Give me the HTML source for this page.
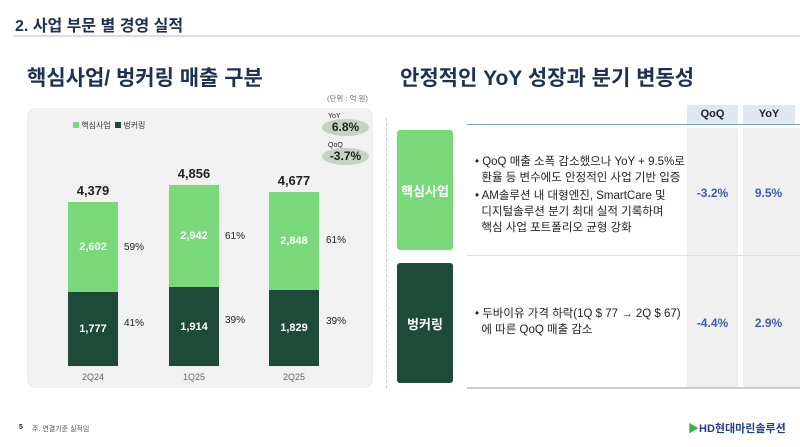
<!DOCTYPE html>
<html><head><meta charset="utf-8"><style>
*{margin:0;padding:0;box-sizing:border-box}
body{width:800px;height:447px;background:#fff;position:relative;overflow:hidden;font-family:"Liberation Sans","Noto Sans CJK KR",sans-serif;color:#222}
.a{position:absolute;white-space:nowrap}
.navy{color:#1f3150;font-weight:bold}
.bar{position:absolute;width:50px;color:#fff;font-weight:bold;font-size:11px;display:flex;align-items:center;justify-content:center}
.lt{background:#79d879}.dk{background:#1e4a39}
.tot{position:absolute;width:50px;text-align:center;font-size:13px;font-weight:bold;color:#222}
.pc{position:absolute;font-size:10px;color:#222}
.xl{position:absolute;width:50px;text-align:center;font-size:9px;color:#666}
.col{position:absolute;background:#f0f0f0}
.val{position:absolute;width:51px;text-align:center;font-size:12px;font-weight:bold;color:#3d5fa8}
.txt{position:absolute;font-size:11.5px;line-height:16px;color:#222}
</style></head><body>
<div class="a navy" style="left:15px;top:12px;font-size:16px">2. 사업 부문 별 경영 실적</div>
<div class="a" style="left:14px;top:35px;width:786px;height:2px;background:#ddd"></div>
<div class="a navy" style="left:27px;top:62px;font-size:21px">핵심사업/ 벙커링 매출 구분</div>
<div class="a" style="left:327px;top:93px;font-size:7.5px;color:#666">(단위 : 억 원)</div>
<div class="a" style="left:27px;top:108px;width:346px;height:280px;background:#f1f1f1;border-radius:8px"></div>
<div class="a" style="left:73px;top:120px;font-size:8px;color:#333"><span style="display:inline-block;width:6px;height:6px;background:#79d879"></span> 핵심사업 &nbsp;<span style="display:inline-block;width:6px;height:6px;background:#1e4a39"></span> 벙커링</div>
<div class="a" style="left:328px;top:113px;font-size:7px">YoY</div>
<div class="a" style="left:322px;top:119px;width:47px;height:17px;border-radius:50%;background:#c5d3c4;font-size:12px;font-weight:bold;text-align:center;line-height:17px">6.8%</div>
<div class="a" style="left:328px;top:142px;font-size:7px">QoQ</div>
<div class="a" style="left:322px;top:148px;width:47px;height:17px;border-radius:50%;background:#c5d3c4;font-size:12px;font-weight:bold;text-align:center;line-height:17px">-3.7%</div>

<div class="tot" style="left:68px;top:183px">4,379</div>
<div class="bar lt" style="left:68px;top:202px;height:90px">2,602</div>
<div class="bar dk" style="left:68px;top:292px;height:74px">1,777</div>
<div class="pc" style="left:124px;top:242px">59%</div>
<div class="pc" style="left:124px;top:318px">41%</div>
<div class="xl" style="left:68px;top:372px">2Q24</div>

<div class="tot" style="left:169px;top:166px">4,856</div>
<div class="bar lt" style="left:169px;top:185px;height:102px">2,942</div>
<div class="bar dk" style="left:169px;top:287px;height:79px">1,914</div>
<div class="pc" style="left:225px;top:231px">61%</div>
<div class="pc" style="left:225px;top:315px">39%</div>
<div class="xl" style="left:169px;top:372px">1Q25</div>

<div class="tot" style="left:269px;top:173px">4,677</div>
<div class="bar lt" style="left:269px;top:192px;height:98px">2,848</div>
<div class="bar dk" style="left:269px;top:290px;height:76px">1,829</div>
<div class="pc" style="left:326px;top:235px">61%</div>
<div class="pc" style="left:326px;top:316px">39%</div>
<div class="xl" style="left:269px;top:372px">2Q25</div>

<div class="a" style="left:386px;top:118px;height:270px;border-left:1px dashed #ccc"></div>

<div class="a navy" style="left:400px;top:62px;font-size:21px">안정적인 YoY 성장과 분기 변동성</div>
<div class="a" style="left:687px;top:105px;width:51px;height:19px;background:#dde8f3;font-size:11px;font-weight:bold;text-align:center;line-height:19px">QoQ</div>
<div class="a" style="left:743px;top:105px;width:52px;height:19px;background:#dde8f3;font-size:11px;font-weight:bold;text-align:center;line-height:19px">YoY</div>
<div class="a" style="left:467px;top:124px;width:333px;height:1px;background:#7f9fd0"></div>
<div class="col" style="left:687px;top:128px;width:51px;height:260px"></div>
<div class="col" style="left:743px;top:128px;width:57px;height:260px"></div>
<div class="a" style="left:467px;top:255px;width:333px;height:1px;background:#ddd"></div>
<div class="a" style="left:467px;top:387px;width:333px;height:2px;background:#ccc"></div>
<div class="a" style="left:397px;top:130px;width:56px;height:120px;background:#79d879;border-radius:3px;color:#fff;font-weight:bold;font-size:13px;display:flex;align-items:center;justify-content:center">핵심사업</div>
<div class="a" style="left:397px;top:263px;width:56px;height:120px;background:#1e4a39;border-radius:3px;color:#fff;font-weight:bold;font-size:13px;display:flex;align-items:center;justify-content:center">벙커링</div>
<div class="txt" style="left:475px;top:154px">• QoQ 매출 소폭 감소했으나 YoY + 9.5%로<br>&nbsp;&nbsp;환율 등 변수에도 안정적인 사업 기반 입증</div>
<div class="txt" style="left:475px;top:188px">• AM솔루션 내 대형엔진, SmartCare 및<br>&nbsp;&nbsp;디지털솔루션 분기 최대 실적 기록하며<br>&nbsp;&nbsp;핵심 사업 포트폴리오 균형 강화</div>
<div class="txt" style="left:475px;top:306px">• 두바이유 가격 하락(1Q $ 77 → 2Q $ 67)<br>&nbsp;&nbsp;에 따른 QoQ 매출 감소</div>
<div class="val" style="left:687px;top:186px">-3.2%</div>
<div class="val" style="left:743px;top:186px">9.5%</div>
<div class="val" style="left:687px;top:316px">-4.4%</div>
<div class="val" style="left:743px;top:316px">2.9%</div>

<div class="a" style="left:19px;top:424px;font-size:7px;font-weight:bold">5</div>
<div class="a" style="left:32px;top:424px;font-size:7px;color:#555">주. 연결기준 실적임</div>
<div class="a" style="left:688px;top:420px;font-size:11px;font-weight:bold;color:#1f3e8c"><span style="color:#2db34a">▶</span>HD현대마린솔루션</div>
</body></html>
